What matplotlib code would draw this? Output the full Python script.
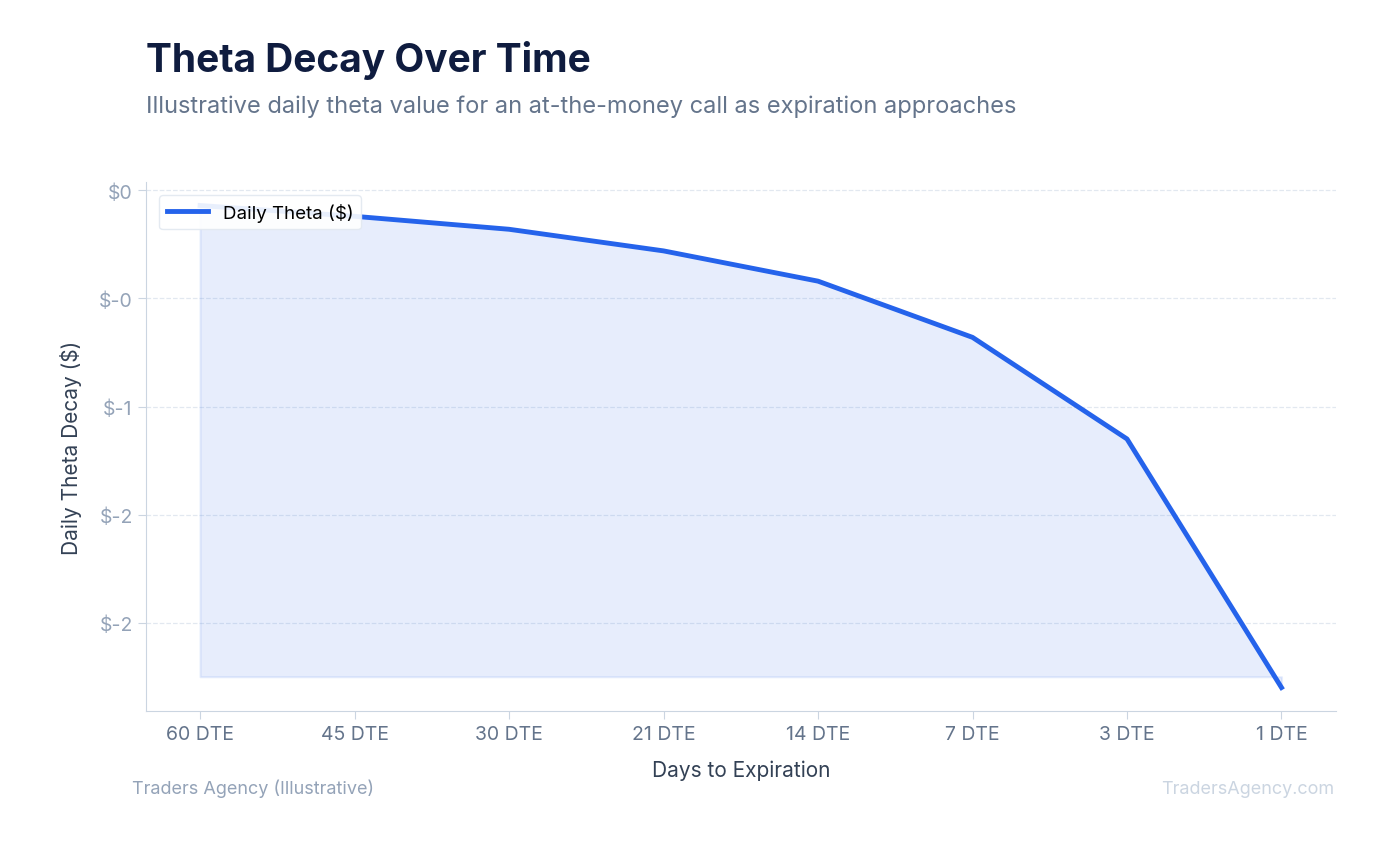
import matplotlib
matplotlib.use("Agg")
import matplotlib.pyplot as plt
from matplotlib.ticker import FuncFormatter

plt.rcParams['font.family'] = ['Inter', 'DejaVu Sans']

categories = ["60 DTE", "45 DTE", "30 DTE", "21 DTE", "14 DTE", "7 DTE", "3 DTE", "1 DTE"]
theta = [-0.07, -0.12, -0.18, -0.28, -0.42, -0.68, -1.15, -2.30]
fill_base = -2.25

fig = plt.figure(figsize=(13.8, 8.45), dpi=100)
ax = fig.add_axes([0.1058, 0.157, 0.862, 0.626])
x = list(range(len(categories)))
ax.fill_between(x, theta, fill_base, color="#2563eb", alpha=0.11, linewidth=1.5)
ax.plot(x, theta, color="#2563eb", linewidth=3.5, label="Daily Theta ($)")

ax.set_xlim(-0.35, 7.35)
ax.set_ylim(-2.41, 0.037)
ax.set_xticks(x)
ax.set_xticklabels(categories)
ax.set_yticks([0, -0.5, -1, -1.5, -2])
ax.yaxis.set_major_formatter(FuncFormatter(lambda v, p: "$0" if v == 0 else f"$-{abs(v):.0f}" if abs(v) >= 1 else "$-0"))
ax.tick_params(axis='both', colors="#cbd5e1", labelsize=14, length=6)
for lab in ax.get_xticklabels():
    lab.set_color("#64748b")
for lab in ax.get_yticklabels():
    lab.set_color("#94a3b8")
ax.grid(axis='y', color="#e2e8f0", linestyle="--", linewidth=0.9)
ax.set_axisbelow(True)
for s in ["top", "right"]:
    ax.spines[s].set_visible(False)
for s in ["left", "bottom"]:
    ax.spines[s].set_color("#cbd5e1")
ax.set_xlabel("Days to Expiration", fontsize=15, color="#334155", labelpad=12)
ax.set_ylabel("Daily Theta Decay ($)", fontsize=15, color="#334155", labelpad=12)
ax.legend(loc="upper left", fontsize=13.5, frameon=True, framealpha=0.9,
          edgecolor="#e2e8f0", borderaxespad=0.7, handlelength=2.2)

fig.text(0.1058, 0.928, "Theta Decay Over Time", fontsize=28, fontweight="bold", color="#0f1c3f", va="center")
fig.text(0.1058, 0.874, "Illustrative daily theta value for an at-the-money call as expiration approaches",
         fontsize=17, color="#64748b", va="center")
fig.text(0.096, 0.066, "Traders Agency (Illustrative)", fontsize=13, color="#94a3b8", va="center")
fig.text(0.967, 0.066, "TradersAgency.com", fontsize=13, color="#cbd5e1", va="center", ha="right")

fig.savefig("out.png", dpi=100)
